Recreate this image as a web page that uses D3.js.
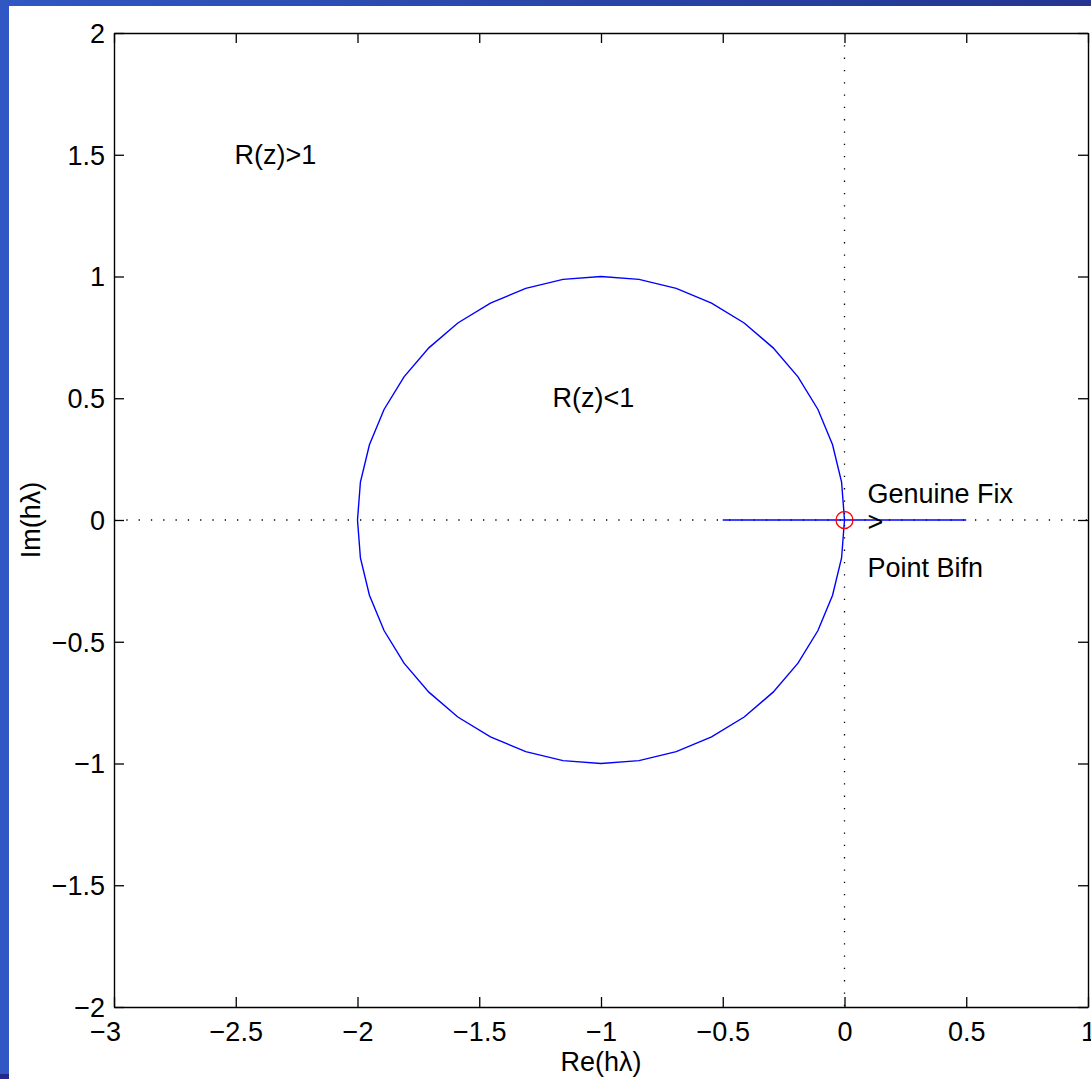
<!DOCTYPE html>
<html><head><meta charset="utf-8">
<script src="https://cdn.jsdelivr.net/npm/d3@7"></script>
<style>
html,body{margin:0;padding:0;background:#fff;overflow:hidden;}
svg text{font-family:"Liberation Sans",Arial,Helvetica,sans-serif;}
</style></head>
<body>
<svg id="chart" width="1091" height="1079"></svg>
<script>
// ---- data ----
const xTicks = [-3, -2.5, -2, -1.5, -1, -0.5, 0, 0.5, 1];
const yTicks = [-2, -1.5, -1, -0.5, 0, 0.5, 1, 1.5, 2];
const xTickLabels = ["−3", "−2.5", "−2", "−1.5", "−1", "−0.5", "0", "0.5", "1"];
const yTickLabels = ["−2", "−1.5", "−1", "−0.5", "0", "0.5", "1", "1.5", "2"];
// stability boundary |1+z|=1, polygon
const circleRe = [0.000,-0.012,-0.049,-0.109,-0.191,-0.293,-0.412,-0.546,-0.691,-0.844,-1.000,-1.156,-1.309,-1.454,-1.588,-1.707,-1.809,-1.891,-1.951,-1.988,-2.000,-1.988,-1.951,-1.891,-1.809,-1.707,-1.588,-1.454,-1.309,-1.156,-1.000,-0.844,-0.691,-0.546,-0.412,-0.293,-0.191,-0.109,-0.049,-0.012,0.000];
const circleIm = [0.000,0.156,0.309,0.454,0.588,0.707,0.809,0.891,0.951,0.988,1.000,0.988,0.951,0.891,0.809,0.707,0.588,0.454,0.309,0.156,0.000,-0.156,-0.309,-0.454,-0.588,-0.707,-0.809,-0.891,-0.951,-0.988,-1.000,-0.988,-0.951,-0.891,-0.809,-0.707,-0.588,-0.454,-0.309,-0.156,0.000];
const segRe = [-0.5, 0.5];
const segIm = [0, 0];
const markerRe = [0];
const markerIm = [0];
const annotations = [
  {text: "R(z)>1", x: -2.505, y: 1.462},
  {text: "R(z)<1", x: -1.199, y: 0.464},
  {text: "Genuine Fix", x: 0.094, y: 0.068},
  {text: ">", x: 0.094, y: -0.045},
  {text: "Point Bifn", x: 0.094, y: -0.234}
];

// ---- drawing ----
const FS = 27;
const svg = d3.select("#chart");
// slide background bands
svg.append("rect").attr("x",0).attr("y",0).attr("width",9).attr("height",1079).attr("fill","#3057c3");
svg.append("rect").attr("x",0).attr("y",1074).attr("width",9).attr("height",5).attr("fill","#23288a");
const grad = svg.append("defs").append("linearGradient").attr("id","topg").attr("x1","0").attr("x2","1");
grad.append("stop").attr("offset","0").attr("stop-color","#3057c3");
grad.append("stop").attr("offset","1").attr("stop-color","#233590");
svg.append("rect").attr("x",0).attr("y",0).attr("width",1091).attr("height",6).attr("fill","url(#topg)");

const L = 114, R = 1088, T = 33, B = 1007;
const x = d3.scaleLinear().domain([-3, 1]).range([L, R]);
const y = d3.scaleLinear().domain([-2, 2]).range([B, T]);

const g = svg.append("g");

// dotted axes lines
g.append("line").attr("x1", x(-3)).attr("x2", x(1)).attr("y1", y(0)).attr("y2", y(0))
  .attr("stroke","#000").attr("stroke-width",1.3).attr("stroke-dasharray","1.3,11");
g.append("line").attr("x1", x(0)).attr("x2", x(0)).attr("y1", y(2)).attr("y2", y(-2))
  .attr("stroke","#000").attr("stroke-width",1.3).attr("stroke-dasharray","1.3,11");

// circle polyline
const line = d3.line().x(d => x(d[0])).y(d => y(d[1]));
g.append("path").datum(circleRe.map((v,i)=>[v, circleIm[i]])).attr("d", line)
  .attr("fill","none").attr("stroke","#0000ff").attr("stroke-width",1.4);
g.append("path").datum(segRe.map((v,i)=>[v, segIm[i]])).attr("d", line)
  .attr("fill","none").attr("stroke","#0000ff").attr("stroke-width",1.4);
g.selectAll("circle.mk").data(markerRe.map((v,i)=>[v, markerIm[i]])).join("circle")
  .attr("class","mk").attr("cx", d=>x(d[0])).attr("cy", d=>y(d[1])).attr("r", 8.5)
  .attr("fill","none").attr("stroke","#ff0000").attr("stroke-width",1.3);

// axes
const fmtX = d => xTickLabels[xTicks.indexOf(d)];
const fmtY = d => yTickLabels[yTicks.indexOf(d)];
const axB = g.append("g").attr("transform",`translate(0,${B})`)
  .call(d3.axisBottom(x).tickValues(xTicks).tickFormat(fmtX).tickSizeInner(-10).tickSizeOuter(0));
const axT = g.append("g").attr("transform",`translate(0,${T})`)
  .call(d3.axisTop(x).tickValues(xTicks).tickFormat("").tickSizeInner(-10).tickSizeOuter(0));
const axL = g.append("g").attr("transform",`translate(${L},0)`)
  .call(d3.axisLeft(y).tickValues(yTicks).tickFormat(fmtY).tickSizeInner(-10).tickSizeOuter(0));
const axR = g.append("g").attr("transform",`translate(${R},0)`)
  .call(d3.axisRight(y).tickValues(yTicks).tickFormat("").tickSizeInner(-10).tickSizeOuter(0));
[axB, axT, axL, axR].forEach(a => {
  a.selectAll("path.domain").attr("stroke","#000").attr("stroke-width",1.4);
  a.selectAll(".tick line").attr("stroke","#000").attr("stroke-width",1.3);
  a.selectAll("text").attr("font-size",FS).attr("fill","#000")
    .style("font-family",'"Liberation Sans",Arial,sans-serif');
});
axB.selectAll(".tick text").attr("y", 15).attr("dy","0.71em");
axB.selectAll(".tick text").filter(d => d === -3).attr("dx","-9");
axL.selectAll(".tick text").attr("x", -9).attr("dy","0.35em");

// axis labels
svg.append("text").attr("x", 601).attr("y", 1071).attr("text-anchor","middle")
  .attr("font-size",FS).text("Re(hλ)");
svg.append("text").attr("transform","translate(40,520) rotate(-90)").attr("text-anchor","middle")
  .attr("font-size",FS).text("Im(hλ)");

// annotations
g.selectAll("text.ann").data(annotations).join("text").attr("class","ann")
  .attr("x", d => x(d.x)).attr("y", d => y(d.y)).attr("font-size",FS).text(d => d.text);
</script>
</body></html>
